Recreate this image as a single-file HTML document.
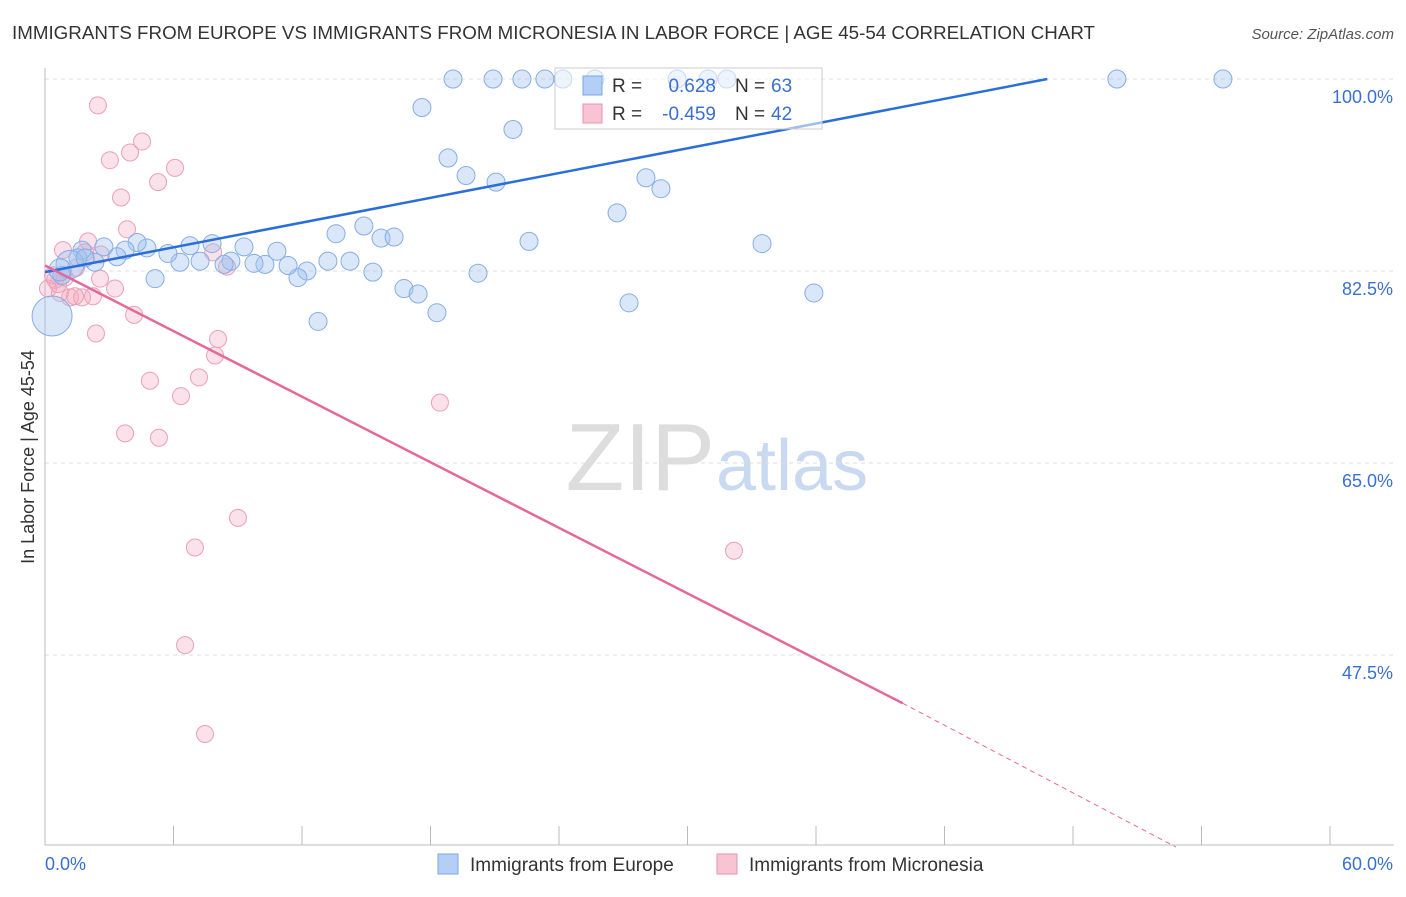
<!DOCTYPE html>
<html><head><meta charset="utf-8"><style>
body{margin:0;background:#fff;font-family:"Liberation Sans",sans-serif}
svg text{font-family:"Liberation Sans",sans-serif}
</style></head><body>
<svg id="c" width="1406" height="892">
<text x="12" y="39" font-size="18" fill="#333" textLength="1083" lengthAdjust="spacingAndGlyphs">IMMIGRANTS FROM EUROPE VS IMMIGRANTS FROM MICRONESIA IN LABOR FORCE | AGE 45-54 CORRELATION CHART</text>
<text x="1394" y="39" font-size="15" fill="#555" text-anchor="end" font-style="italic">Source: ZipAtlas.com</text>
<text x="34" y="457" font-size="18" fill="#333" text-anchor="middle" transform="rotate(-90 34 457)">In Labor Force | Age 45-54</text>
<text x="715" y="490" font-size="96" fill="#ddd" text-anchor="end" font-family="Liberation Serif">ZIP</text>
<text x="716" y="490" font-size="72" fill="#c9d9ef">atlas</text>
<g id="grid"></g><g id="pts"></g><g id="lines"></g>
<g>
<rect x="555" y="68" width="267" height="61" fill="rgba(255,255,255,0.55)" stroke="#ccc"/>
<rect x="583" y="76" width="19" height="19" fill="#b3cff5" stroke="#7aa6e0"/>
<rect x="583" y="104" width="19" height="19" fill="#f8c3d3" stroke="#e892ac"/>
<text x="612" y="92" font-size="19" fill="#333">R =</text>
<text x="716" y="92" font-size="19" fill="#3a6fd1" text-anchor="end">0.628</text>
<text x="735" y="92" font-size="19" fill="#333">N =</text>
<text x="771" y="92" font-size="19" fill="#3a6fd1">63</text>
<text x="612" y="120" font-size="19" fill="#333">R =</text>
<text x="716" y="120" font-size="19" fill="#3a6fd1" text-anchor="end">-0.459</text>
<text x="735" y="120" font-size="19" fill="#333">N =</text>
<text x="771" y="120" font-size="19" fill="#3a6fd1">42</text>
</g>
<g>
<rect x="438" y="854" width="20" height="20" fill="#b3cff5" stroke="#7aa6e0"/>
<text x="470" y="871" font-size="19" fill="#333">Immigrants from Europe</text>
<rect x="717" y="854" width="20" height="20" fill="#f8c3d3" stroke="#e892ac"/>
<text x="749" y="871" font-size="19" fill="#333">Immigrants from Micronesia</text>
</g>
</svg>
<script>
const yTicks=[100,82.5,65,47.5];
const xTickLabels=["0.0%","60.0%"];
const blueX=[19.05,20.92,22.27,23.34,24.18,25.68,29.51,30.96,31.84,50.05,55.0,17.6,21.85,18.82,19.66,21.06,28.06,28.76,26.71,22.6,33.48,14.89,13.59,15.69,16.3,15.31,13.21,14.24,12.23,11.81,11.35,10.83,10.27,9.76,9.29,8.68,8.36,7.8,7.24,6.77,6.3,5.74,5.14,4.76,4.3,3.74,3.36,2.75,2.33,1.73,1.54,1.17,0.79,0.33,16.76,17.42,18.3,12.75,20.22,27.27,35.9,0.7,1.87];
const blueY=[100,100,100,100,100,100,100,100,100,100,100,97.4,95.4,92.8,91.2,90.6,91.0,90.0,87.8,85.2,85.0,86.6,85.9,85.5,85.6,82.4,83.4,83.4,82.5,81.9,83.0,84.3,83.1,83.2,84.7,83.4,83.1,85.0,83.4,84.8,83.3,84.1,81.8,84.6,85.1,84.4,83.8,84.7,83.3,84.4,83.7,83.1,82.1,78.4,80.9,80.4,78.7,77.9,82.3,79.6,80.5,82.6,83.7];
const blueSize=[9,9,9,9,9,9,9,9,9,9,9,9,9,9,9,9,9,9,9,9,9,9,9,9,9,9,9,9,9,9,9,9,9,9,9,9,9,9,9,9,9,9,9,9,9,9,9,9,9,9,9,14,9,20,9,9,9,9,9,9,9,11,9];
const pinkX=[2.47,4.53,3.97,3.03,5.28,6.07,3.55,3.83,2.01,0.84,1.87,1.45,2.57,3.27,0.61,1.17,2.24,1.73,4.16,2.38,8.08,7.94,7.85,8.5,7.19,4.9,6.35,18.44,3.74,5.32,9.01,7.0,32.17,6.54,7.47,0.47,0.14,0.93,0.7,2.61,0.37,1.4];
const pinkY=[97.6,94.3,93.3,92.6,90.6,91.9,89.2,86.3,85.2,84.4,84.2,82.8,81.8,80.9,81.3,80.1,80.2,80.1,78.5,76.8,76.3,74.8,84.2,82.9,72.8,72.5,71.1,70.5,67.7,67.3,60.0,57.3,57.0,48.4,40.3,81.7,80.9,81.9,80.5,84.0,82.1,80.2];
const blueTrend=[0,82.4,46.8,100];
const pinkTrend=[0,83.0,40.05,43.1,52.8,30];
const X=v=>45+v/60*1285, Y=v=>79+(100-v)/17.5*192;
const NS="http://www.w3.org/2000/svg";
function mk(t,a,p){const e=document.createElementNS(NS,t);for(const k in a)e.setAttribute(k,a[k]);p.appendChild(e);return e;}
const g=document.getElementById('grid');
yTicks.forEach(v=>{
 const l=mk('line',{x1:45,x2:1394,y1:Y(v),y2:Y(v),stroke:'#ddd','stroke-dasharray':'4 4'},g);
 
 
 const t=mk('text',{x:1393,y:Y(v)+24,'font-size':18,fill:'#3a6fd1','text-anchor':'end'},g);t.textContent=v.toFixed(1)+'%';
 
 
});
mk('line',{x1:45,x2:45,y1:68,y2:845,stroke:'#bbb'},g);
mk('line',{x1:45,x2:1394,y1:845,y2:845,stroke:'#bbb'},g);
for(let i=0;i<=10;i++){const tk=mk('line',{x1:X(i*6),x2:X(i*6),y1:826,y2:845,stroke:'#bbb'},g);
 
 }
const t0=mk('text',{x:45,y:870,'font-size':18,fill:'#3a6fd1'},g);t0.textContent=xTickLabels[0];


const t1=mk('text',{x:1393,y:870,'font-size':18,fill:'#3a6fd1','text-anchor':'end'},g);t1.textContent=xTickLabels[1];


const p=document.getElementById('pts');
pinkX.forEach((v,i)=>{const c=mk('circle',{cx:X(v),cy:Y(pinkY[i]),r:8.5,fill:'rgba(244,170,192,0.35)',stroke:'#eba0b6','stroke-width':1},p);
 
 });
blueX.forEach((v,i)=>{const c=mk('circle',{cx:X(v),cy:Y(blueY[i]),r:blueSize[i],fill:'rgba(160,195,240,0.4)',stroke:'#86ade6','stroke-width':1},p);
 
 });
const L=document.getElementById('lines');
const bl=mk('line',{x1:X(blueTrend[0]),y1:Y(blueTrend[1]),x2:X(blueTrend[2]),y2:Y(blueTrend[3]),stroke:'#2a6ed8','stroke-width':2.5},L);


const pl=mk('line',{x1:X(pinkTrend[0]),y1:Y(pinkTrend[1]),x2:X(pinkTrend[2]),y2:Y(pinkTrend[3]),stroke:'#e5689a','stroke-width':2.5},L);


const pd=mk('line',{x1:X(pinkTrend[2]),y1:Y(pinkTrend[3]),x2:X(pinkTrend[4]),y2:Y(pinkTrend[5]),stroke:'#e5689a','stroke-width':1,'stroke-dasharray':'5 4'},L);


</script>
</body></html>
